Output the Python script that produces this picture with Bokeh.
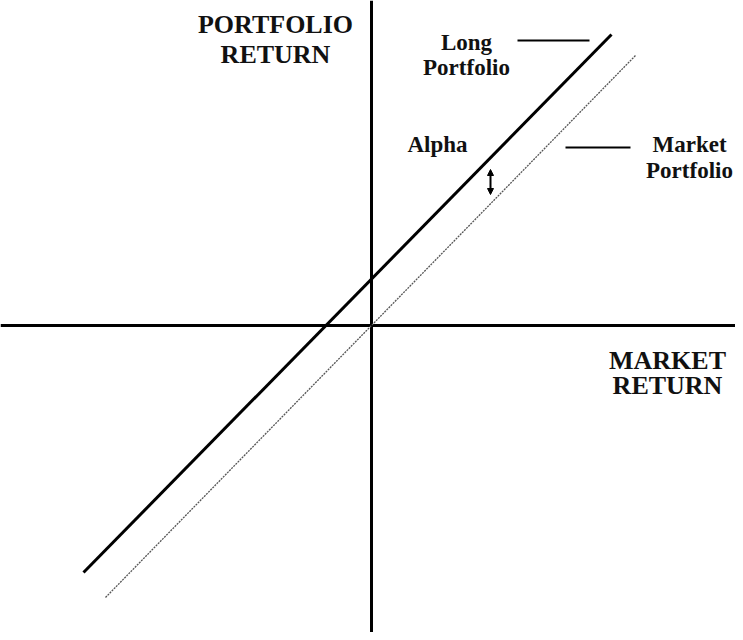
from bokeh.plotting import figure
from bokeh.models import Range1d, Arrow, NormalHead
from bokeh.core.properties import value
from bokeh.embed import file_html
from bokeh.resources import INLINE

# Data (market return vs portfolio return, arbitrary units, origin at axes crossing)
market_x = [-2.66, 2.64]
market_y = [-2.72, 2.70]
long_x = [-2.88, 2.40]
long_y = [-2.47, 2.91]

# Alpha arrow (x, y from, y to)
alpha_x = 1.19
alpha_y0 = 1.31
alpha_y1 = 1.56

# Labels
title_lines = ["PORTFOLIO", "RETURN"]
title_x = [-0.96, -0.96]
title_y = [3.01, 2.71]

xaxis_lines = ["MARKET", "RETURN"]
xaxis_x = [2.96, 2.96]
xaxis_y = [-0.35, -0.60]

long_lines = ["Long", "Portfolio"]
long_lab_x = [0.95, 0.95]
long_lab_y = [2.83, 2.58]

market_lines = ["Market", "Portfolio"]
market_lab_x = [3.18, 3.18]
market_lab_y = [1.81, 1.55]

alpha_label = ["Alpha"]
alpha_lab_x = [0.66]
alpha_lab_y = [1.81]

# leader lines: x0, x1, y
long_leader = [1.46, 2.18, 2.85]
market_leader = [1.94, 2.59, 1.78]

p = figure(width=735, height=632, output_backend="svg", toolbar_location=None,
           x_range=Range1d(-3.71, 3.64), y_range=Range1d(-3.07, 3.25),
           min_border=0)
p.axis.visible = False
p.grid.visible = False
p.outline_line_color = None
p.background_fill_color = "white"
p.border_fill_color = "white"

# axes lines
p.segment(x0=[-3.71], y0=[0], x1=[3.64], y1=[0], line_color="black", line_width=3)
p.segment(x0=[0], y0=[-3.07], x1=[0], y1=[3.25], line_color="black", line_width=3)

# market portfolio line (thin dashed)
p.line(market_x, market_y, line_color="#555555", line_width=1.3, line_dash="2 1")
# long portfolio line
p.line(long_x, long_y, line_color="black", line_width=3)

# leader lines
p.segment(x0=[long_leader[0], market_leader[0]], y0=[long_leader[2], market_leader[2]],
          x1=[long_leader[1], market_leader[1]], y1=[long_leader[2], market_leader[2]],
          line_color="black", line_width=2)

# alpha arrow
p.add_layout(Arrow(x_start=alpha_x, y_start=alpha_y0, x_end=alpha_x, y_end=alpha_y1,
                   line_color="black", line_width=2,
                   start=NormalHead(size=6, fill_color="black", line_color="black"),
                   end=NormalHead(size=6, fill_color="black", line_color="black")))

font = value("Liberation Serif")

def labels(xs, ys, texts, size):
    p.text(x=xs, y=ys, text=texts, text_font=font, text_font_style="bold",
           text_font_size=size, text_align="center", text_baseline="alphabetic",
           text_color="#111111")

labels(title_x, title_y, title_lines, "26px")
labels(xaxis_x, xaxis_y, xaxis_lines, "26px")
labels(long_lab_x, long_lab_y, long_lines, "23px")
labels(market_lab_x, market_lab_y, market_lines, "23px")
labels(alpha_lab_x, alpha_lab_y, alpha_label, "23px")

open("out.html", "w").write(file_html(p, INLINE))
